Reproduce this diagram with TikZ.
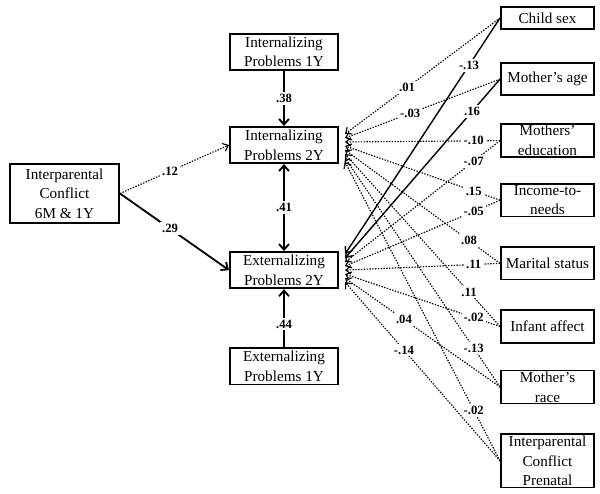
\documentclass[tikz,border=0pt]{standalone}
\usepackage{fontspec}
\setmainfont{Liberation Serif}
\usetikzlibrary{positioning, arrows.meta}

\begin{document}
\begin{tikzpicture}[x=0.025cm, y=-0.025cm, node distance=1cm]
    % Define block styles
    \tikzstyle{block} = [rectangle, draw, line width=1.2pt, minimum width=2.71cm, minimum height=0.91cm, inner sep=1pt, align=center, font=\fontsize{10.8}{14}\selectfont]
    \tikzstyle{cov} = [block, minimum width=2.33cm, minimum height=0.81cm]
    \tikzstyle{coef} = [fill=white, inner sep=1.5pt, font=\fontsize{9}{10}\selectfont\bfseries]
    \tikzstyle{sig} = [-{Straight Barb[length=4pt, width=7pt]}, line width=1.3pt]
    \tikzstyle{sigc} = [-{Straight Barb[length=4pt, width=6pt]}, line width=1pt]
    \tikzstyle{ns} = [-{Straight Barb[length=3.5pt, width=6pt]}, line width=0.8pt, dash pattern=on 1pt off 1pt]
    \useasboundingbox (0,0) rectangle (600,494);

    % Blocks and nodes
    \node [block, minimum width=2.73cm, minimum height=1.48cm] (IPC) at (64.5,193.5) {Interparental\\Conflict\\6M \& 1Y};
    \node [block] (IntTwo) at (284,145) {Internalizing\\Problems 2Y};
    \node [block, above=1.375cm of IntTwo] (IntOne) {Internalizing\\Problems 1Y};
    \node [block, below=2.175cm of IntTwo] (ExtTwo) {Externalizing\\Problems 2Y};
    \node [block, below=1.45cm of ExtTwo] (ExtOne) {Externalizing\\Problems 1Y};

    \node [cov, minimum height=0.56cm] (ChildSex) at (547.5,18) {Child sex};
    \node [cov, below=0.8cm of ChildSex] (MomAge) {Mother's age};
    \node [cov, below=0.675cm of MomAge] (MomEdu) {Mothers'\\education};
    \node [cov, below=0.625cm of MomEdu] (Income) {Income-to-\\needs};
    \node [cov, below=0.725cm of Income] (Marital) {Marital status};
    \node [cov, below=0.725cm of Marital] (Infant) {Infant affect};
    \node [cov, below=0.65cm of Infant] (MomRace) {Mother's\\race};
    \node [cov, minimum height=1.33cm, below=0.725cm of MomRace] (IPCPre) {Interparental\\Conflict\\Prenatal};

    % Connections
    \draw [sig] (IntOne) -- node[coef] {.38} (IntTwo);
    \draw [sig] (ExtOne) -- node[coef, pos=0.4] {.44} (ExtTwo);
    \draw [line width=1.3pt, {Straight Barb[length=4pt, width=7pt]}-{Straight Barb[length=4pt, width=7pt]}] (IntTwo) -- node[coef] {.41} (ExtTwo);
    \draw [ns] (IPC.east) -- node[coef, pos=0.46] {.12} (IntTwo.west);
    \draw [sig] (IPC.east) -- node[coef, pos=0.46] {.29} (ExtTwo.west);

    % Covariates
    \draw [ns] (ChildSex.west) -- node[coef, pos=0.6] {.01} ([xshift=1.5mm, yshift=2.75mm]IntTwo.east);
    \draw [sigc] (ChildSex.west) -- node[coef, pos=0.2] {-.13} ([xshift=1.5mm, yshift=4mm]ExtTwo.east);
    \draw [ns] (MomAge.west) -- node[coef, pos=0.58] {-.03} ([xshift=1.5mm, yshift=1.75mm]IntTwo.east);
    \draw [sigc] (MomAge.west) -- node[coef, pos=0.18] {.16} ([xshift=1.5mm, yshift=3mm]ExtTwo.east);
    \draw [ns] (MomEdu.west) -- node[coef, pos=0.17] {-.10} ([xshift=1.5mm, yshift=0.75mm]IntTwo.east);
    \draw [ns] (MomEdu.west) -- node[coef, pos=0.17] {-.07} ([xshift=1.5mm, yshift=2mm]ExtTwo.east);
    \draw [ns] (Income.west) -- node[coef, pos=0.17] {.15} ([xshift=1.5mm, yshift=-0.25mm]IntTwo.east);
    \draw [ns] (Income.west) -- node[coef, pos=0.17] {-.05} ([xshift=1.5mm, yshift=1mm]ExtTwo.east);
    \draw [ns] (Marital.west) -- node[coef, pos=0.2] {.08} ([xshift=1.5mm, yshift=-1.25mm]IntTwo.east);
    \draw [ns] (Marital.west) -- node[coef, pos=0.17] {.11} ([xshift=1.5mm, yshift=0mm]ExtTwo.east);
    \draw [ns] (Infant.west) -- node[coef, pos=0.2] {.11} ([xshift=1.5mm, yshift=-2.25mm]IntTwo.east);
    \draw [ns] (Infant.west) -- node[coef, pos=0.17] {-.02} ([xshift=1.5mm, yshift=-1mm]ExtTwo.east);
    \draw [ns] (MomRace.west) -- node[coef, pos=0.17] {-.13} ([xshift=1.5mm, yshift=-3.25mm]IntTwo.east);
    \draw [ns] (MomRace.west) -- node[coef, pos=0.62] {.04} ([xshift=1.5mm, yshift=-2mm]ExtTwo.east);
    \draw [ns] (IPCPre.west) -- node[coef, pos=0.17] {-.02} ([xshift=1.5mm, yshift=-4.25mm]IntTwo.east);
    \draw [ns] (IPCPre.west) -- node[coef, pos=0.62] {-.14} ([xshift=1.5mm, yshift=-3mm]ExtTwo.east);

\end{tikzpicture}
\end{document}
